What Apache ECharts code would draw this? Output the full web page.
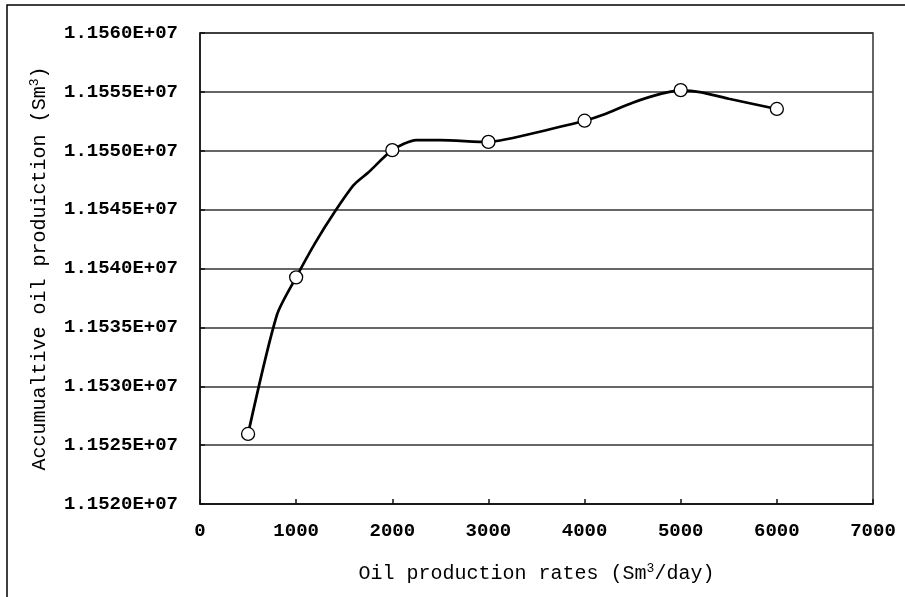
<!DOCTYPE html>
<html>
<head>
<meta charset="utf-8">
<script src="https://cdn.jsdelivr.net/npm/echarts@6/dist/echarts.min.js"></script>
<style>
  html, body { margin: 0; padding: 0; background: #fff; }
  #chart { width: 905px; height: 597px; }
</style>
</head>
<body>
<div id="chart"></div>
<script>
// Measured points: oil production rate (Sm3/day) vs. cumulative oil production (Sm3)
const rates = [500, 1000, 2000, 3000, 4000, 5000, 6000];
const cumulative = [11525950, 11539250, 11550050, 11550750, 11552550, 11555150, 11553550];

// Trend curve through the measurements
const curveRates = [500, 800, 1000, 1200, 1400, 1600, 1750, 2000, 2250, 2500, 3000, 3200, 3500, 4000, 4200, 4500, 4800, 5000, 5200, 5500, 6000];
const curveValues = [11525950, 11536050, 11539250, 11542200, 11544800, 11547100, 11548150, 11550050, 11550900, 11550900, 11550750, 11551000, 11551550, 11552550, 11553080, 11554080, 11554850, 11555100, 11554980, 11554420, 11553550];

// Axis ranges
const xMin = 0, xMax = 7000, xStep = 1000;
const yMin = 11520000, yMax = 11560000, yStep = 5000;

const FONT = '"Liberation Mono", "DejaVu Sans Mono", monospace';

const titleRich = {
  n: { fontFamily: FONT, fontSize: 20, color: '#000', lineHeight: 24 },
  s: { fontFamily: FONT, fontSize: 13, color: '#000', lineHeight: 12, verticalAlign: 'top' }
};

const chart = echarts.init(document.getElementById('chart'), null, { renderer: 'canvas' });

chart.setOption({
  backgroundColor: '#ffffff',
  animation: false,
  graphic: [{
    type: 'rect',
    shape: { x: 7, y: 5, width: 1200, height: 1000 },
    style: { fill: 'none', stroke: '#000', lineWidth: 1.5 },
    silent: true
  }],
  grid: {
    left: 200, right: 32, top: 33, bottom: 93,
    show: true, borderColor: '#333', borderWidth: 1.5,
    containLabel: false
  },
  xAxis: {
    type: 'value',
    min: xMin, max: xMax, interval: xStep,
    name: '{n|Oil production rates (Sm}{s|3}{n|/day)}',
    nameLocation: 'middle',
    nameGap: 58,
    nameTextStyle: { rich: titleRich },
    axisLine: { show: true, onZero: false, lineStyle: { color: '#111', width: 1.5 } },
    axisTick: { show: true, inside: true, length: 5, lineStyle: { color: '#111', width: 1.5 } },
    axisLabel: {
      fontFamily: FONT, fontSize: 19, fontWeight: 'bold', color: '#000', margin: 18,
      formatter: v => String(v)
    },
    splitLine: { show: false }
  },
  yAxis: {
    type: 'value',
    min: yMin, max: yMax, interval: yStep,
    name: '{n|Accumualtive oil produiction (Sm}{s|3}{n|)}',
    nameLocation: 'middle',
    nameRotate: 90,
    nameGap: 148,
    nameTextStyle: { rich: titleRich },
    axisLine: { show: true, onZero: false, lineStyle: { color: '#111', width: 1.5 } },
    axisTick: { show: true, inside: true, length: 5, lineStyle: { color: '#111', width: 1.5 } },
    axisLabel: {
      fontFamily: FONT, fontSize: 19, fontWeight: 'bold', color: '#000', margin: 22,
      formatter: v => (v / 1e7).toFixed(4) + 'E+07'
    },
    splitLine: { show: true, lineStyle: { color: '#333', width: 1.5 } }
  },
  series: [
    {
      name: 'trend',
      type: 'line',
      data: curveRates.map((r, i) => [r, curveValues[i]]),
      showSymbol: false,
      smooth: 0.25,
      lineStyle: { color: '#000', width: 2.7 },
      z: 2
    },
    {
      name: 'measured',
      type: 'scatter',
      data: rates.map((r, i) => [r, cumulative[i]]),
      symbol: 'circle',
      symbolSize: 13,
      itemStyle: { color: '#ffffff', opacity: 1, borderColor: '#000', borderWidth: 1.3 },
      emphasis: { disabled: true },
      z: 3
    }
  ]
});
</script>
</body>
</html>
